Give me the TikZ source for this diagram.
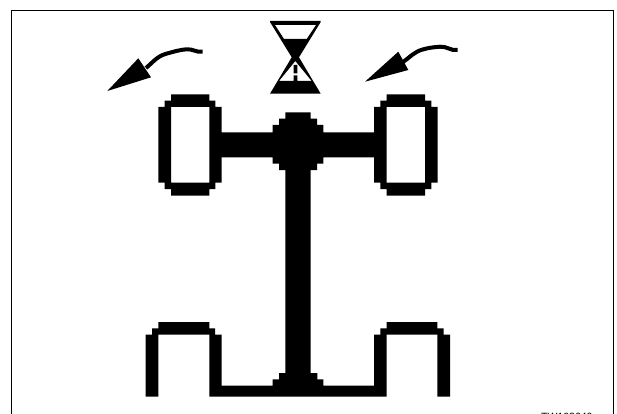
\documentclass[tikz,border=0pt]{standalone}
\usepackage{fontspec}
\setmainfont{Liberation Sans}
\begin{document}
\begin{tikzpicture}[x=1pt,y=-1pt,
  frameline/.style={draw=black,line width=1.4pt},
  solid part/.style={fill=black,even odd rule},
  curveline/.style={draw=black,line width=4pt},
  figcode/.style={inner sep=0pt,anchor=north west,font=\fontsize{10.5pt}{10.5pt}\selectfont}]
 \clip (0,0) rectangle (617,414);
 % frame, open at the bottom
 \draw[frameline] (11.5,414)--(11.5,10.5)--(613.5,10.5)--(613.5,414);
 \node[figcode] (code) at (541,412.6) {TW103640};
 % hourglass
 \fill[solid part] (270,21)--(320.7,21)--(320.7,22)--(299,57.3)--(320.7,93.7)--(270,93.7)--(291.7,57.3)--(270,22)--cycle
   (275,25)--(316,25)--(306.7,39)--(284,39)--cycle
   (295.3,61)--(311.7,81)--(297.3,81)--(297.3,75.3)--(293.7,75.3)--(293.7,81)--(279,81)--cycle
   (293.7,65)--(297.3,65)--(297.3,73.3)--(293.7,73.3)--cycle;
 % turning arrows
 \draw[curveline] (202.7,51.7) to[out=190,in=5] (186.7,49.3) to[out=185,in=15] (166.7,53.6) to[out=195,in=40] (146,68);
 \fill[solid part] (107.3,91)--(138.3,58.3)--(151,77.3)--cycle;
 \draw[curveline] (457.7,50) to[out=190,in=5] (440,46.7) to[out=185,in=15] (423.3,49.3) to[out=195,in=35] (403,62);
 \fill[solid part] (365,81.7)--(398.3,51.7)--(408.3,70)--cycle;
 % front wheels, axles, shaft and rear wheels
 \fill[solid part] (171,94.3)--(209.3,94.3)--(209.3,100.7)--(215.3,100.7)--(215.3,107)--(221.7,107)--(221.7,132.3)
   --(272.7,132.3)--(272.7,125)--(279,125)--(279,118.7)--(285.3,118.7)--(285.3,112.3)
   --(310.7,112.3)--(310.7,118.7)--(317,118.7)--(317,125)--(323.3,125)--(323.3,132.3)
   --(374,132.3)--(374,107)--(380.3,107)--(380.3,100.7)--(386.7,100.7)--(386.7,94.3)
   --(425,94.3)--(425,100.7)--(431.3,100.7)--(431.3,107)--(437.7,107)--(437.7,182.7)
   --(431.3,182.7)--(431.3,189)--(425,189)--(425,195.7)--(386.7,195.7)--(386.7,189)--(380.3,189)--(380.3,182.7)--(374,182.7)
   --(374,157.3)--(323.3,157.3)--(323.3,163.7)--(317,163.7)--(317,170)--(310.7,170)
   --(310.7,373)--(317.3,373)--(317.3,379.3)--(323.3,379.3)--(323.3,385.7)--(374,385.7)
   --(374,334.7)--(380.3,334.7)--(380.3,328.3)--(386.7,328.3)--(386.7,322)
   --(437.3,322)--(437.3,328.3)--(443.7,328.3)--(443.7,334.7)--(450,334.7)--(450,396.7)
   --(437.3,396.7)--(437.3,334.7)--(386.7,334.7)--(386.7,396.7)
   --(209.3,396.7)--(209.3,334.7)--(158.3,334.7)--(158.3,396.7)--(145.7,396.7)
   --(145.7,334.7)--(152,334.7)--(152,328.3)--(158.3,328.3)--(158.3,322)
   --(209.3,322)--(209.3,328.3)--(215,328.3)--(215,334.7)--(221.7,334.7)--(221.7,385.7)
   --(272.7,385.7)--(272.7,379.3)--(279,379.3)--(279,373)--(285.3,373)
   --(285.3,170)--(279,170)--(279,163.7)--(272.7,163.7)--(272.7,157.3)--(221.7,157.3)--(221.7,182.7)
   --(215.3,182.7)--(215.3,189)--(209.3,189)--(209.3,195.7)--(171,195.7)--(171,189)--(164.7,189)--(164.7,182.7)--(158.3,182.7)
   --(158.3,107)--(164.7,107)--(164.7,100.7)--(171,100.7)--cycle
   (171,107)--(209.3,107)--(209.3,182.7)--(171,182.7)--cycle
   (386.7,107)--(425,107)--(425,182.7)--(386.7,182.7)--cycle;
\end{tikzpicture}
\end{document}
